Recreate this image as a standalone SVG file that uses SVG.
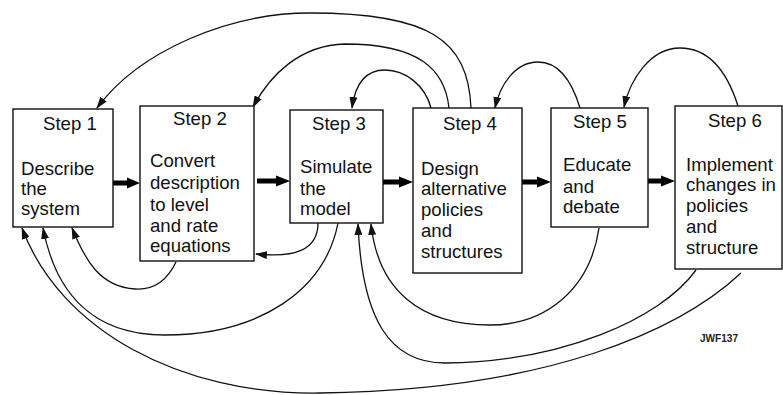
<svg xmlns="http://www.w3.org/2000/svg" width="783" height="395" viewBox="0 0 783 395">
<defs>
<style>
.box{fill:#fff;stroke:#111;stroke-width:1.4}
.t{font-family:"Liberation Sans",Arial,sans-serif;font-size:18.6px;fill:#111}
.fb{fill:none;stroke:#111;stroke-width:1.3;marker-end:url(#ah)}
.fat{fill:#000;stroke:none}
.tag{font-family:"Liberation Sans",Arial,sans-serif;font-size:10px;font-weight:bold;fill:#222}
</style>
<marker id="ah" viewBox="0 0 12 8" refX="11" refY="4" markerWidth="12" markerHeight="8" markerUnits="userSpaceOnUse" orient="auto">
<path d="M0,0 L12,4 L0,8 Z" fill="#111"/>
</marker>
</defs>
<rect width="783" height="395" fill="#fff"/>

<g id="connectors">
<path class="fat" d="M113,180.5 L127,180.5 L127,177.5 L140,183 L127,188.5 L127,185.5 L113,185.5 Z"/>
<path class="fat" d="M257,178.5 L276,178.5 L276,175.5 L290,181 L276,186.5 L276,183.5 L257,183.5 Z"/>
<path class="fat" d="M383,179.5 L399,179.5 L399,176.5 L413,182 L399,187.5 L399,184.5 L383,184.5 Z"/>
<path class="fat" d="M522,179.5 L537,179.5 L537,176.5 L551,182 L537,187.5 L537,184.5 L522,184.5 Z"/>
<path class="fat" d="M648,178.5 L661,178.5 L661,175.5 L675,181 L661,186.5 L661,183.5 L648,183.5 Z"/>

<path class="fb" d="M471,108 C468,40 430,13 310,13 C230,13 140,50 97,108"/>
<path class="fb" d="M449,108 C445,70 420,44 345,44 C300,45 270,75 253,107"/>
<path class="fb" d="M431,108 C425,85 405,70 385,70 C365,70 355,85 352,108"/>
<path class="fb" d="M580,108 C570,75 555,62 538,62 C515,62 500,85 495,108"/>
<path class="fb" d="M738,106 C725,65 705,48 680,48 C650,48 630,80 624,107"/>

<path class="fb" d="M176,262 C165,285 150,290 135,289 C100,287 85,260 72,228"/>
<path class="fb" d="M318,223 C318,250 295,258 256,254"/>
<path class="fb" d="M338,223 C325,290 260,335 165,335 C90,335 55,290 43,228"/>
<path class="fb" d="M599,228 C590,290 545,325 490,325 C420,325 378,290 371,224"/>
<path class="fb" d="M696,270 C660,320 560,362 445,363 C390,363 362,320 358,224"/>
<path class="fb" d="M741,273 C680,330 550,390 320,393 C180,395 60,330 22,228"/>
</g>

<g id="step1">
<rect class="box" x="13" y="109" width="100" height="118"/>
<text class="t" x="43" y="130">Step 1</text>
<text class="t" x="21" y="175">Describe</text>
<text class="t" x="21" y="195">the</text>
<text class="t" x="21" y="215">system</text>
</g>
<g id="step2">
<rect class="box" x="140" y="106" width="114" height="155"/>
<text class="t" x="173" y="125">Step 2</text>
<text class="t" x="150" y="167">Convert</text>
<text class="t" x="150" y="189">description</text>
<text class="t" x="150" y="211">to level</text>
<text class="t" x="150" y="232">and rate</text>
<text class="t" x="150" y="252">equations</text>
</g>
<g id="step3">
<rect class="box" x="290" y="110" width="93" height="113"/>
<text class="t" x="312" y="130">Step 3</text>
<text class="t" x="300" y="173">Simulate</text>
<text class="t" x="300" y="195">the</text>
<text class="t" x="300" y="215">model</text>
</g>
<g id="step4">
<rect class="box" x="413" y="108" width="109" height="165"/>
<text class="t" x="443" y="130">Step 4</text>
<text class="t" x="421" y="175">Design</text>
<text class="t" x="421" y="195">alternative</text>
<text class="t" x="421" y="216">policies</text>
<text class="t" x="421" y="237">and</text>
<text class="t" x="421" y="258">structures</text>
</g>
<g id="step5">
<rect class="box" x="551" y="108" width="97" height="119"/>
<text class="t" x="573" y="128">Step 5</text>
<text class="t" x="563" y="171">Educate</text>
<text class="t" x="563" y="193">and</text>
<text class="t" x="563" y="213">debate</text>
</g>
<g id="step6">
<rect class="box" x="675" y="106" width="107" height="163"/>
<text class="t" x="708" y="127">Step 6</text>
<text class="t" x="686" y="171">Implement</text>
<text class="t" x="686" y="191">changes in</text>
<text class="t" x="686" y="212">policies</text>
<text class="t" x="686" y="233">and</text>
<text class="t" x="686" y="254">structure</text>
</g>
<text class="tag" x="700" y="342" textLength="38" lengthAdjust="spacingAndGlyphs">JWF137</text>
</svg>
